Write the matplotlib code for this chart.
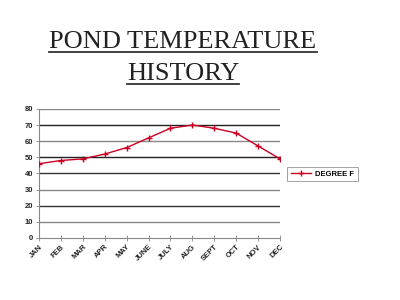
import matplotlib
matplotlib.use("Agg")
import matplotlib.pyplot as plt
from matplotlib.lines import Line2D

months = ["JAN", "FEB", "MAR", "APR", "MAY", "JUNE", "JULY", "AUG", "SEPT", "OCT", "NOV", "DEC"]
temps = [46, 48, 49, 52, 56, 62, 68, 70, 68, 65, 57, 49]
yticks = [0, 10, 20, 30, 40, 50, 60, 70, 80]
series_name = "DEGREE F"

fig = plt.figure(figsize=(4, 3), dpi=100)
fig.patch.set_facecolor("white")
ax = fig.add_axes([0.0975, 0.207, 0.6025, 0.43])

grid_colors = ["#555555", "#888888", "#333333", "#888888", "#333333", "#222222", "#888888", "#222222", "#888888"]
for v, c in zip(yticks[1:], grid_colors[1:]):
    ax.axhline(v, color=c, lw=1.0, zorder=1)

x = list(range(len(months)))
ax.plot(x, temps, color="#cc0022", lw=1.0, marker="+", ms=4.5, mew=1.0, zorder=3, label=series_name)

ax.set_xlim(0, 11)
ax.set_ylim(0, 80)
ax.set_yticks(yticks)
ax.set_yticklabels([str(v) for v in yticks], fontsize=5.5, family="Liberation Sans", fontweight="bold", color="#222222")
ax.set_xticks(x)
ax.set_xticklabels(months, rotation=45, ha="right", rotation_mode="anchor",
                   fontsize=5.5, family="Liberation Sans", fontweight="bold", color="#222222")
ax.tick_params(axis="both", length=2, width=0.6, color="#888888", pad=2)
ax.tick_params(axis="x", direction="inout", length=4)
for s in ["top", "right"]:
    ax.spines[s].set_visible(False)
ax.spines["left"].set_color("#888888")
ax.spines["bottom"].set_color("#888888")
ax.spines["left"].set_linewidth(0.8)
ax.spines["bottom"].set_linewidth(0.8)

leg = fig.legend(loc="center left", bbox_to_anchor=(0.708, 0.42),
                 prop={"family": "Liberation Sans", "weight": "bold", "size": 5.5},
                 frameon=True, fancybox=False, edgecolor="#777777", handlelength=2.6,
                 borderpad=0.5, handletextpad=0.6)
leg.get_frame().set_linewidth(0.6)

t1 = fig.text(0.4575, 0.84, "POND TEMPERATURE", ha="center", va="baseline",
              family="Liberation Serif", fontsize=19, color="#222222")
t2 = fig.text(0.4575, 0.733, "HISTORY", ha="center", va="baseline",
              family="Liberation Serif", fontsize=19, color="#222222")
fig.canvas.draw()
r = fig.canvas.get_renderer()
for t in (t1, t2):
    bb = t.get_window_extent(r).transformed(fig.transFigure.inverted())
    yb = t.get_position()[1] - 0.014
    fig.lines.append(Line2D([bb.x0, bb.x1], [yb, yb], transform=fig.transFigure, color="#333333", lw=1.3))

fig.savefig("out.png", dpi=100)
